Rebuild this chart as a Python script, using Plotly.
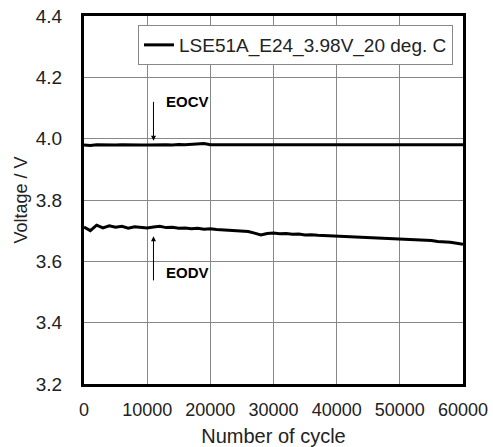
import plotly.graph_objects as go

series_name = "LSE51A_E24_3.98V_20 deg. C"

eocv_cycles = [0, 1000, 2000, 3000, 4000, 5000, 6000, 7000, 8000, 9000, 10000,
               11000, 12000, 13000, 14000, 15000, 16000, 17000, 18000, 19000, 20000, 60000]
eocv_volts = [3.979, 3.978, 3.980, 3.979, 3.978, 3.979, 3.980, 3.979, 3.978, 3.979, 3.979,
              3.980, 3.979, 3.980, 3.979, 3.981, 3.980, 3.982, 3.983, 3.984, 3.980, 3.980]

eodv_cycles = list(range(0, 61000, 1000))
eodv_volts = [3.712, 3.700, 3.718, 3.709, 3.716, 3.711, 3.714, 3.708, 3.713, 3.710,
              3.709, 3.712, 3.714, 3.710, 3.711, 3.708, 3.709, 3.706, 3.708, 3.705,
              3.706, 3.704, 3.703, 3.701, 3.700, 3.698, 3.697, 3.692, 3.686, 3.691,
              3.692, 3.690, 3.691, 3.688, 3.689, 3.686, 3.687, 3.685, 3.684, 3.683,
              3.682, 3.681, 3.680, 3.680, 3.678, 3.679, 3.677, 3.676, 3.676, 3.674,
              3.674, 3.672, 3.671, 3.670, 3.668, 3.668, 3.665, 3.664, 3.662, 3.659,
              3.656]

x_ticks = [0, 10000, 20000, 30000, 40000, 50000, 60000]
y_ticks = [3.2, 3.4, 3.6, 3.8, 4.0, 4.2, 4.4]
y_tick_labels = ["3.2", "3.4", "3.6", "3.8", "4.0", "4.2", "4.4"]

FONT = "Liberation Sans, Arial, sans-serif"

fig = go.Figure()
fig.add_trace(go.Scatter(x=eocv_cycles, y=eocv_volts, mode="lines",
                         line=dict(color="black", width=3), name=series_name, showlegend=True))
fig.add_trace(go.Scatter(x=eodv_cycles, y=eodv_volts, mode="lines",
                         line=dict(color="black", width=3), name=series_name, showlegend=False))

# arrows
fig.add_annotation(x=11000, y=3.993, ax=11000, ay=4.125, xref="x", yref="y", axref="x", ayref="y",
                   showarrow=True, arrowhead=2, arrowsize=1, arrowwidth=1, arrowcolor="black", text="")
fig.add_annotation(x=11000, y=3.682, ax=11000, ay=3.533, xref="x", yref="y", axref="x", ayref="y",
                   showarrow=True, arrowhead=2, arrowsize=1, arrowwidth=1, arrowcolor="black", text="")
fig.add_annotation(x=12600, y=4.12, xref="x", yref="y", text="<b>EOCV</b>", showarrow=False,
                   xanchor="left", font=dict(family=FONT, size=15, color="black"))
fig.add_annotation(x=12600, y=3.562, xref="x", yref="y", text="<b>EODV</b>", showarrow=False,
                   xanchor="left", font=dict(family=FONT, size=15, color="black"))

fig.update_layout(
    width=493, height=447,
    margin=dict(l=84, r=30, t=16, b=63),
    paper_bgcolor="white", plot_bgcolor="white",
    font=dict(family=FONT, size=18, color="#222"),
    legend=dict(x=0.9736, y=0.9755, xanchor="right", yanchor="top",
                bordercolor="#888", borderwidth=1, bgcolor="white",
                font=dict(family=FONT, size=19, color="#222")),
)
fig.update_xaxes(range=[0, 60000], tickvals=x_ticks, ticktext=[str(v) for v in x_ticks],
                 showgrid=True, gridcolor="#888", gridwidth=1,
                 showline=True, linecolor="black", linewidth=3, mirror=True,
                 ticks="outside", ticklen=7, tickcolor="rgba(0,0,0,0)", zeroline=False,
                 tickfont=dict(size=18), automargin=False,
                 title=dict(text="Number of cycle", standoff=11, font=dict(size=20)))
fig.update_yaxes(range=[3.2, 4.4], tickvals=y_ticks, ticktext=y_tick_labels,
                 showgrid=True, gridcolor="#888", gridwidth=1,
                 showline=True, linecolor="black", linewidth=3, mirror=True,
                 ticks="outside", ticklen=15, tickcolor="rgba(0,0,0,0)", zeroline=False,
                 tickfont=dict(size=19), automargin=False,
                 title=dict(text="Voltage / V", standoff=4, font=dict(size=18)))

fig.write_html("out.html", config={"displayModeBar": False},
               post_script="document.body.style.margin='0';")
